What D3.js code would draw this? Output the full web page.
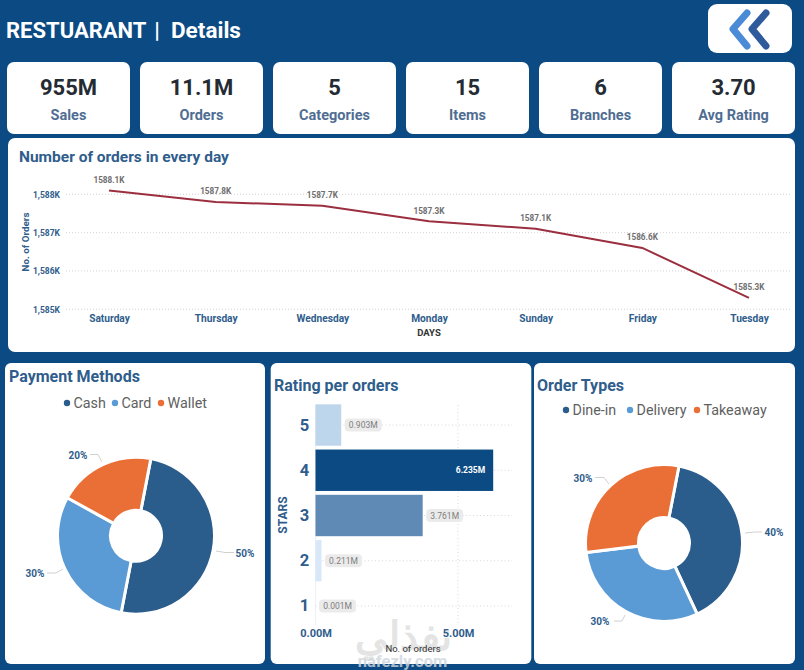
<!DOCTYPE html>
<html><head><meta charset="utf-8">
<script src="https://cdn.jsdelivr.net/npm/d3@7/dist/d3.min.js"></script>
<style>html,body{margin:0;padding:0;background:#0b4a83;overflow:hidden}svg{display:block}text{font-family:Roboto,"Noto Sans",sans-serif}</style>
</head><body><svg id="c" width="804" height="670"></svg>
<script>
const kpiValues=["955M","11.1M","5","15","6","3.70"];
const kpiLabels=["Sales","Orders","Categories","Items","Branches","Avg Rating"];
const days=["Saturday","Thursday","Wednesday","Monday","Sunday","Friday","Tuesday"];
const dayOrders=[1588.1,1587.8,1587.7,1587.3,1587.1,1586.6,1585.3];
const dayTicks=[1585,1586,1587,1588];
const payLabels=["Cash","Card","Wallet"];
const payShare=[50,30,20];
const typeLabels=["Dine-in","Delivery","Takeaway"];
const typeShare=[40,30,30];
const stars=["5","4","3","2","1"];
const starOrders=[0.903,6.235,3.761,0.211,0.001];
const starColors=["#bdd6ec","#0b4a83","#5e8ab5","#d8e8f8","#eef4fb"];
const pieColors=["#2a5c8c","#5b9bd5","#e96f36"];
const BLUE="#2f5d8c";

const svg=d3.select("#c");
const panel=(x,y,w,h,r=6)=>svg.append("rect").attr("x",x).attr("y",y).attr("width",w).attr("height",h).attr("rx",r).attr("fill","#fff");
const txt=(x,y,s,o={})=>svg.append("text").attr("x",x).attr("y",y).text(s)
  .attr("text-anchor",o.a||"start").attr("dominant-baseline","central")
  .attr("font-size",o.s||12).attr("font-weight",o.w||400).attr("fill",o.c||BLUE)
  .attr("font-family",o.f||null).attr("transform",o.t||null);

// header
txt(6,30,"RESTUARANT",{s:22,w:700,c:"#fff",f:"Lato"});
txt(157,30,"|",{a:"middle",s:22,w:700,c:"#fff",f:"Lato"});
txt(171,30,"Details",{s:22.5,w:700,c:"#fff",f:"Lato"});
panel(708,4,84,49,9);
const chev=d3.line();
svg.append("path").attr("d",chev([[747,13],[733,29],[747,46]])).attr("fill","none").attr("stroke","#4a8ad6").attr("stroke-width",7).attr("stroke-linecap","round").attr("stroke-linejoin","round");
svg.append("path").attr("d",chev([[766,13],[752,29],[766,46]])).attr("fill","none").attr("stroke","#2f5b9c").attr("stroke-width",7).attr("stroke-linecap","round").attr("stroke-linejoin","round");

// KPI cards
const cardX=d3.scaleLinear().domain([0,5]).range([7,672]);
kpiValues.forEach((v,i)=>{
  const x=cardX(i);
  panel(x,62,123,72,7);
  txt(x+61.5,87,v,{a:"middle",s:22,w:700,c:"#252b33",f:"Lato"});
  txt(x+61.5,115,kpiLabels[i],{a:"middle",s:14.5,w:700,c:"#4f6d92",f:"Lato"});
});

// line chart
panel(8,138,787,214,7);
txt(19,157,"Number of orders in every day",{s:15.5,w:700,f:"Roboto"});
const xL=d3.scalePoint().domain(days).range([109,749]);
const yL=d3.scaleLinear().domain([1585,1588]).range([309.3,194.3]);
const gy=svg.append("g").call(d3.axisLeft(yL).tickValues(dayTicks).tickSize(0).tickPadding(0).tickFormat(d=>d3.format(",")(d)+"K"));
gy.select(".domain").remove();
gy.selectAll("text").attr("x",60).attr("dy",null).attr("dominant-baseline","central").attr("font-size",8.5).attr("font-weight",700).attr("fill",BLUE).attr("font-family","Roboto");
svg.append("g").selectAll("line").data(dayTicks).join("line").attr("x1",66).attr("x2",790).attr("y1",yL).attr("y2",yL)
  .attr("stroke","#c9c9c9").attr("stroke-width",.8).attr("stroke-dasharray","1 2");
const gx=svg.append("g").attr("transform","translate(0,318)").call(d3.axisBottom(xL).tickSize(0).tickPadding(0));
gx.select(".domain").remove();
gx.selectAll("text").attr("y",0).attr("dy",null).attr("dominant-baseline","central").attr("font-size",10.2).attr("font-weight",700).attr("fill",BLUE).attr("font-family","Roboto");
svg.append("path").attr("d",d3.line().x((d,i)=>xL(days[i])).y(d=>yL(d))(dayOrders)).attr("fill","none").attr("stroke","#9b2f3f").attr("stroke-width",2);
dayOrders.forEach((v,i)=>txt(xL(days[i]),yL(v)-10.5,v.toFixed(1)+"K",{a:"middle",s:8.2,w:700,c:"#6f6f6f",f:"Roboto"}));
txt(429,332.5,"DAYS",{a:"middle",s:9.5,w:700,c:"#333"});
txt(25,242,"No. of Orders",{a:"middle",s:9.8,w:700,t:"rotate(-90 25 242)"});

// donuts
function donut(cx,cy,vals,start,leaders){
  const pie=d3.pie().sort(null).startAngle(start*Math.PI/180).endAngle((start+360)*Math.PI/180)(vals);
  const arc=d3.arc().innerRadius(25.5).outerRadius(78.5);
  svg.append("g").attr("transform",`translate(${cx},${cy})`).selectAll("path").data(pie).join("path")
    .attr("d",arc).attr("fill",(d,i)=>pieColors[i]).attr("stroke","#fff").attr("stroke-width",3);
  leaders.forEach((l,i)=>{
    svg.append("path").attr("d",d3.line()(l.pts)).attr("fill","none").attr("stroke","#c4c4c4").attr("stroke-width",.8);
    txt(l.x,l.y,vals[i]+"%",{a:"middle",s:10,w:700,f:"Roboto"});
  });
}
function legend(labels,xs,y){
  labels.forEach((l,i)=>{
    svg.append("circle").attr("cx",xs[i]).attr("cy",y).attr("r",3.2).attr("fill",pieColors[i]);
    txt(xs[i]+6.5,y,l,{s:14.3,c:"#5f5f5f",f:"Open Sans"});
  });
}
panel(5,363,260,301,6);
txt(9,376,"Payment Methods",{s:16,w:700,f:"Roboto"});
legend(payLabels,[67,115,161],403);
donut(136,535.7,payShare,10.9,[
 {x:245,y:553.5,pts:[[216,551],[225,552.5],[234,552.5]]},
 {x:35,y:573,pts:[[63,569],[56,573],[47,573]]},
 {x:78,y:455.5,pts:[[102,462],[98,454.5],[90,454.5]]}]);

panel(270.7,363,260.6,301,6);
txt(274,385,"Rating per orders",{s:16,w:700,f:"Roboto"});
// watermark
txt(403,636,"نفذلي",{a:"middle",s:40,w:700,c:"#e4e4e4",f:"DejaVu Sans"});
txt(402.5,661,"nafezly.com",{a:"middle",s:16.5,w:700,c:"#cfd6de",f:"Roboto"}).attr("opacity",.8);
const yB=d3.scaleBand().domain(stars).range([402.5,628.5]).paddingInner(.085).paddingOuter(.04);
const xB=d3.scaleLinear().domain([0,5]).range([315.5,458]);
svg.append("line").attr("x1",xB(5)).attr("x2",xB(5)).attr("y1",405).attr("y2",625).attr("stroke","#d0d0d0").attr("stroke-width",.8).attr("stroke-dasharray","1 2.5");
svg.append("line").attr("x1",xB(0)).attr("x2",xB(0)).attr("y1",405).attr("y2",625).attr("stroke","#e8edf2").attr("stroke-width",.8);
svg.append("g").selectAll("line").data(stars).join("line").attr("x1",xB(0)).attr("x2",512)
  .attr("y1",d=>yB(d)+yB.bandwidth()/2).attr("y2",d=>yB(d)+yB.bandwidth()/2)
  .attr("stroke","#cfcfcf").attr("stroke-width",.8).attr("stroke-dasharray","1 2.5");
svg.append("g").selectAll("rect").data(stars).join("rect").attr("x",xB(0)).attr("y",d=>yB(d))
  .attr("width",(d,i)=>xB(starOrders[i])-xB(0)).attr("height",yB.bandwidth()).attr("fill",(d,i)=>starColors[i]);
stars.forEach((s,i)=>{
  const cy=yB(s)+yB.bandwidth()/2, v=starOrders[i], lab=v.toFixed(3)+"M";
  txt(304.5,cy,s,{a:"middle",s:16.5,w:700});
  if(v>5){txt(xB(v)-8,cy,lab,{a:"end",s:8.5,w:700,c:"#fff",f:"Roboto"});}
  else{
    const l=xB(v)+3.5;
    svg.append("rect").attr("x",l).attr("y",cy-6.5).attr("width",37).attr("height",13).attr("rx",4).attr("fill","#ebebeb");
    txt(l+18.5,cy,lab,{a:"middle",s:8.5,c:"#7d7d7d",f:"Roboto"});
  }
});
const gb=svg.append("g").attr("transform","translate(0,633)").call(d3.axisBottom(xB).tickValues([0,5]).tickSize(0).tickPadding(0).tickFormat(d=>d.toFixed(2)+"M"));
gb.select(".domain").remove();
gb.selectAll("text").attr("y",0).attr("dy",null).attr("dominant-baseline","central").attr("font-size",11).attr("font-weight",700).attr("fill",BLUE).attr("font-family","Roboto");
txt(283,515,"STARS",{a:"middle",s:12,w:700,t:"rotate(-90 283 515)"});
txt(413,648.5,"No. of orders",{a:"middle",s:9.5,c:"#333"});

panel(534,363,261,301,6);
txt(537,385,"Order Types",{s:16,w:700,f:"Roboto"});
legend(typeLabels,[566,630,697],410);
donut(664,543,typeShare,11,[
 {x:774,y:532.5,pts:[[745,533],[755,532],[762,532]]},
 {x:600,y:621.5,pts:[[625,615],[622,621],[614,621]]},
 {x:583,y:478.5,pts:[[609,484],[604,477.5],[595,477.5]]}]);
</script></body></html>
